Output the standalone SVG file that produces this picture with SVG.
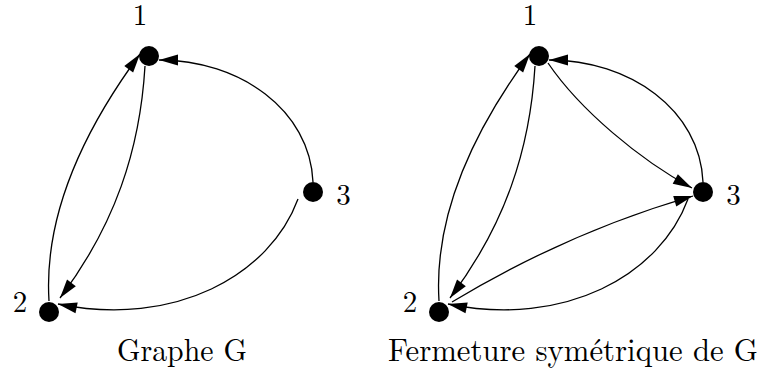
<svg xmlns="http://www.w3.org/2000/svg" width="761" height="371" viewBox="0 0 761 371">
<style>
.e{fill:none;stroke:#000;stroke-width:1.3;marker-end:url(#ah)}
.n{fill:#000}
text{font-family:"CMU Serif","Latin Modern Roman","Liberation Serif","Times New Roman",Times,"Noto Serif","DejaVu Serif",FreeSerif,Tinos,"Nimbus Roman","TeX Gyre Termes",serif;fill:#000}
.lb{font-size:29px;text-anchor:middle}
.ti{font-size:32px}
</style>
<defs>
<marker id="ah" markerUnits="userSpaceOnUse" markerWidth="19" markerHeight="11" refX="19" refY="5.5" orient="auto" overflow="visible">
<path d="M0,0 L19,5.5 L0,11 z" fill="#000"/>
</marker>
</defs>
<rect width="761" height="371" fill="#fff"/>
<g id="connectors">
<path class="e" d="M49,301 C44,220 78,138 140,54"/>
<path class="e" d="M145,66 C140,150 115,225 60,298"/>
<path class="e" d="M313,182 C310,110 240,60 159,60"/>
<path class="e" d="M298,199 C270,275 175,328 58,304"/>
<path class="e" d="M439,301 C434,220 468,138 530,54"/>
<path class="e" d="M535,66 C530,150 505,225 450,298"/>
<path class="e" d="M703,182 C700,110 630,60 549,60"/>
<path class="e" d="M688,199 C660,275 565,328 448,304"/>
<path class="e" d="M548,63 C580,110 640,160 692,188"/>
<path class="e" d="M452,302 C530,255 610,220 693,196"/>
</g>
<g id="G-1"><circle class="n" cx="149" cy="56" r="10"/><text class="lb" x="140" y="25">1</text></g>
<g id="G-2"><circle class="n" cx="49" cy="312" r="10"/><text class="lb" x="20" y="312">2</text></g>
<g id="G-3"><circle class="n" cx="313" cy="192" r="10"/><text class="lb" x="343.5" y="205">3</text></g>
<g id="S-1"><circle class="n" cx="539" cy="56" r="10"/><text class="lb" x="530" y="25">1</text></g>
<g id="S-2"><circle class="n" cx="439" cy="312" r="10"/><text class="lb" x="410" y="312">2</text></g>
<g id="S-3"><circle class="n" cx="703" cy="192" r="10"/><text class="lb" x="733.5" y="205">3</text></g>
<g id="captions">
<text class="ti" x="117" y="361" textLength="130" lengthAdjust="spacingAndGlyphs">Graphe G</text>
<text class="ti" x="388" y="361" textLength="370" lengthAdjust="spacingAndGlyphs">Fermeture symétrique de G</text>
</g>
</svg>
